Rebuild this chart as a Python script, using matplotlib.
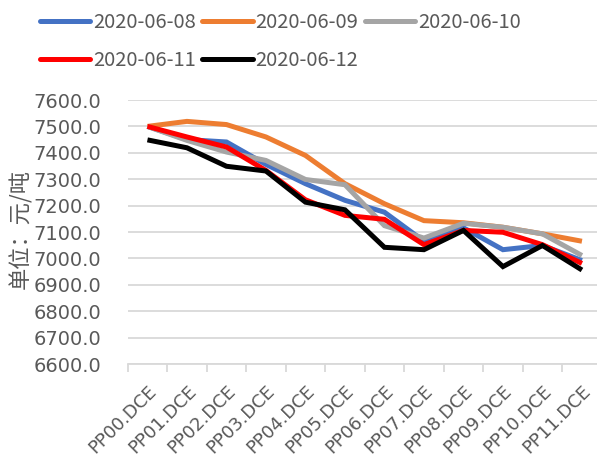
import matplotlib
matplotlib.use("Agg")
import matplotlib.pyplot as plt
from matplotlib.ticker import FixedLocator

plt.rcParams['font.family'] = ['Noto Sans CJK SC', 'DejaVu Sans']

categories = ["PP00.DCE", "PP01.DCE", "PP02.DCE", "PP03.DCE", "PP04.DCE", "PP05.DCE",
              "PP06.DCE", "PP07.DCE", "PP08.DCE", "PP09.DCE", "PP10.DCE", "PP11.DCE"]
series_names = ["2020-06-08", "2020-06-09", "2020-06-10", "2020-06-11", "2020-06-12"]
s0608 = [7500, 7450, 7441, 7356, 7283, 7220, 7175, 7065, 7116, 7033, 7049, 6992]
s0609 = [7500, 7519, 7507, 7460, 7390, 7283, 7207, 7143, 7135, 7118, 7093, 7065]
s0610 = [7500, 7447, 7403, 7371, 7299, 7279, 7124, 7077, 7133, 7118, 7093, 7011]
s0611 = [7500, 7460, 7422, 7333, 7222, 7163, 7148, 7052, 7106, 7099, 7052, 6981]
s0612 = [7449, 7419, 7349, 7331, 7213, 7184, 7042, 7033, 7106, 6969, 7049, 6956]
y_ticks = [6600, 6700, 6800, 6900, 7000, 7100, 7200, 7300, 7400, 7500, 7600]
y_label = "单位：元/吨"

colors = ["#4472C4", "#ED7D31", "#A5A5A5", "#FF0000", "#000000"]
text_color = "#595959"
grid_color = "#D9D9D9"

fig = plt.figure(figsize=(5.97, 4.61), dpi=100)
ax = fig.add_axes([127.7 / 597, 97 / 461, (601.7 - 127.7) / 597, 264 / 461])

x = list(range(len(categories)))
handles = []
for name, vals, c in zip(series_names, [s0608, s0609, s0610, s0611, s0612], colors):
    h, = ax.plot(x, vals, color=c, lw=3.6, label=name,
                 solid_joinstyle='miter', solid_capstyle='butt')
    handles.append(h)

ax.set_xlim(-0.5, len(categories) - 0.5)
ax.set_ylim(6600, 7600)
ax.set_yticks(y_ticks)
ax.set_yticklabels([f"{v:.1f}" for v in y_ticks], family=['DejaVu Sans'],
                   fontsize=14, color=text_color)
ax.grid(axis='y', color=grid_color, lw=1.3)
ax.set_axisbelow(True)

ax.set_xticks(x)
ax.set_xticklabels(categories, rotation=45, ha='right', va='top',
                   rotation_mode='anchor', fontsize=13, color=text_color,
                   family=['DejaVu Sans'])
ax.xaxis.set_minor_locator(FixedLocator([i - 0.5 for i in range(len(categories) + 1)]))
ax.tick_params(axis='x', which='major', length=0, pad=13)
ax.tick_params(axis='x', which='minor', length=6, width=1.3, color=grid_color)
ax.tick_params(axis='y', length=0, pad=19)

for s in ['top', 'right', 'left']:
    ax.spines[s].set_visible(False)
ax.spines['bottom'].set_color(grid_color)
ax.spines['bottom'].set_linewidth(1.3)

fig.text(21 / 597, 1 - 229 / 461, y_label, rotation=90, ha='center', va='center',
         fontsize=16, color=text_color)

order = [0, 3, 1, 4, 2]
leg = fig.legend([handles[i] for i in order], [series_names[i] for i in order],
                 ncol=3, loc='upper left', bbox_to_anchor=(28 / 597, 1.0),
                 frameon=False, fontsize=14.5, handlelength=2.5, handletextpad=0.15,
                 columnspacing=0.3, labelspacing=0.85, borderaxespad=0.2)
for t in leg.get_texts():
    t.set_color(text_color)
for lh in leg.get_lines():
    lh.set_linewidth(3.6)
    lh.set_solid_capstyle('round')

fig.savefig("out.png", dpi=100)
